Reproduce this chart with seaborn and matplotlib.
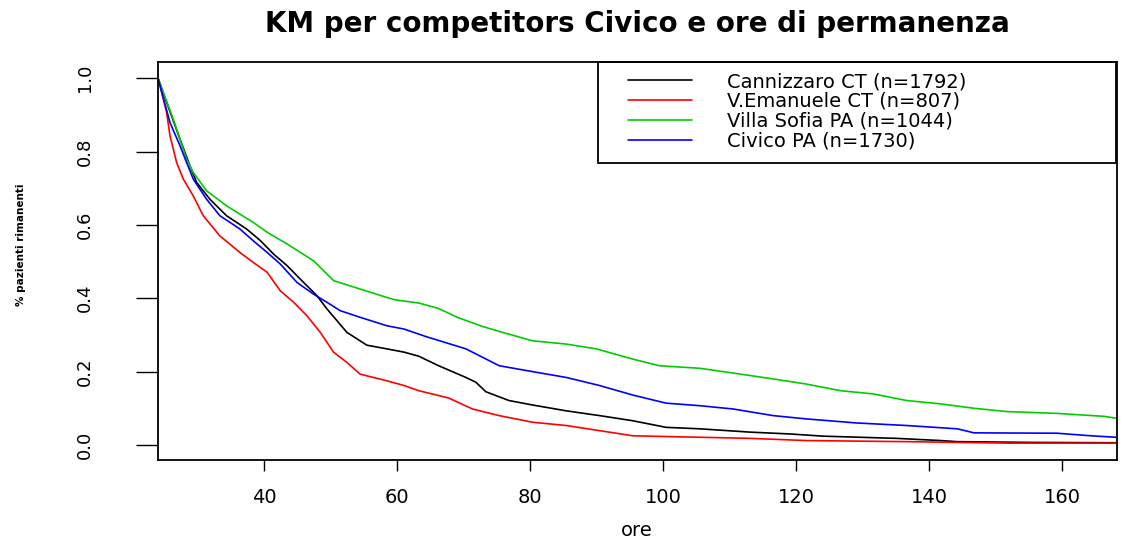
import numpy as np
import pandas as pd
import seaborn as sns
import matplotlib
matplotlib.use("Agg")
import matplotlib.pyplot as plt
from matplotlib.patches import Rectangle

# ---- data ----
groups = ["Cannizzaro CT (n=1792)", "V.Emanuele CT (n=807)",
          "Villa Sofia PA (n=1044)", "Civico PA (n=1730)"]
colors = ["#000000", "#FF0000", "#00CD00", "#0000FF"]

ore_cannizzaro = [24, 25.3, 27.3, 28.8, 29.8, 31.8, 34.3, 37.3, 39.4, 41.4, 43.4, 45.4,
                  47.9, 49.4, 52.4, 55.4, 58.4, 61, 63.2, 66.2, 70.3, 71.8, 73.3, 76.8,
                  80.3, 85.4, 90.4, 95.4, 100.4, 105.5, 113, 119, 124, 135, 141.7, 144.2,
                  155, 168]
km_cannizzaro = [1.0, 0.934, 0.834, 0.761, 0.716, 0.670, 0.625, 0.589, 0.557, 0.520, 0.489, 0.452,
                 0.407, 0.371, 0.307, 0.272, 0.262, 0.253, 0.242, 0.216, 0.184, 0.171, 0.145, 0.121,
                 0.109, 0.093, 0.080, 0.066, 0.048, 0.044, 0.035, 0.030, 0.024, 0.018, 0.012, 0.009,
                 0.007, 0.006]

ore_vemanuele = [24, 24.3, 25.3, 25.8, 26.8, 27.8, 29.3, 30.8, 33.3, 36.3, 38.3, 40.4, 42.4,
                 44.4, 46.4, 48.4, 50.4, 52.4, 54.4, 58.4, 61, 63.2, 67.7, 71.3, 75.3, 80.3,
                 85.4, 90.4, 95.4, 100.4, 113, 121.5, 136.6, 152, 168]
km_vemanuele = [1.0, 0.979, 0.906, 0.843, 0.770, 0.725, 0.679, 0.625, 0.570, 0.525, 0.498, 0.471,
                0.420, 0.389, 0.352, 0.307, 0.253, 0.225, 0.193, 0.175, 0.162, 0.148, 0.128, 0.098,
                0.080, 0.062, 0.053, 0.039, 0.025, 0.023, 0.018, 0.012, 0.009, 0.005, 0.005]

ore_villasofia = [24, 26.3, 28.3, 29.3, 31.3, 34.3, 38.3, 40.4, 43.4, 47.4, 49.4, 50.4, 54.4,
                  59.5, 63.2, 66.2, 69, 72.8, 75.8, 80.3, 85.4, 89.9, 95.4, 99.4, 105.5, 110.5,
                  116.5, 121.5, 126.6, 131.6, 136.6, 141.7, 146.7, 151.7, 159.2, 166.3, 168]
km_villasofia = [1.0, 0.888, 0.779, 0.743, 0.693, 0.652, 0.607, 0.580, 0.548, 0.502, 0.466, 0.448,
                 0.425, 0.396, 0.387, 0.372, 0.348, 0.323, 0.307, 0.284, 0.275, 0.262, 0.234, 0.216,
                 0.209, 0.196, 0.180, 0.166, 0.148, 0.139, 0.121, 0.112, 0.100, 0.091, 0.086, 0.078,
                 0.073]

ore_civico = [24, 25.8, 27.3, 28.3, 29.3, 31.3, 33.3, 36.3, 38.3, 40.4, 42.4, 44.9, 47.4,
              49.4, 51.4, 54.4, 58.4, 61, 64.2, 70.3, 75.3, 80.3, 85.4, 90.4, 95.4, 100.4,
              105.5, 110.5, 116.5, 121.5, 129, 136.6, 144.2, 146.7, 159.2, 164.3, 168]
km_civico = [1.0, 0.879, 0.816, 0.770, 0.725, 0.670, 0.625, 0.589, 0.557, 0.525, 0.493, 0.443, 0.411,
             0.389, 0.366, 0.348, 0.325, 0.316, 0.296, 0.262, 0.216, 0.200, 0.184, 0.162, 0.136, 0.114,
             0.107, 0.098, 0.080, 0.071, 0.060, 0.053, 0.044, 0.033, 0.032, 0.025, 0.021]

x_ticks = [40, 60, 80, 100, 120, 140, 160]
y_ticks = [0.0, 0.2, 0.4, 0.6, 0.8, 1.0]
y_tick_labels = ["0.0", "0.2", "0.4", "0.6", "0.8", "1.0"]

title = "KM per competitors Civico e ore di permanenza"
xlabel = "ore"
ylabel = "% pazienti rimanenti"

# ---- long table ----
frames = []
for g, o, k in zip(groups,
                   [ore_cannizzaro, ore_vemanuele, ore_villasofia, ore_civico],
                   [km_cannizzaro, km_vemanuele, km_villasofia, km_civico]):
    frames.append(pd.DataFrame({"ore": o, "km": k, "gruppo": g}))
df = pd.concat(frames, ignore_index=True)

sns.set_theme(style="white")
plt.rcParams["font.family"] = ["DejaVu Sans"]
plt.rcParams["text.color"] = "black"
plt.rcParams["axes.labelcolor"] = "black"
plt.rcParams["xtick.color"] = "black"
plt.rcParams["ytick.color"] = "black"

W, H = 1122, 539
fig = plt.figure(figsize=(W / 100, H / 100), dpi=100)
ax = fig.add_axes([158 / W, 1 - 460 / H, (1117 - 158) / W, (460 - 62) / H])

sns.lineplot(data=df, x="ore", y="km", hue="gruppo", hue_order=groups,
             palette=colors, estimator=None, sort=False, linewidth=1.2,
             legend=False, ax=ax)

ax.set_xlim(24, 168.2)
ax.set_ylim(-0.041, 1.044)
ax.set_xticks(x_ticks)
ax.set_xticklabels([str(t) for t in x_ticks], fontsize=14, color="black")
ax.set_yticks(y_ticks)
ax.set_yticklabels(y_tick_labels, fontsize=13, rotation=90, va="center", color="black")
ax.tick_params(axis="x", direction="out", length=8, width=1, color="black", pad=12, bottom=True)
ax.tick_params(axis="y", direction="out", length=16, width=1, color="black", pad=30, left=True)
ax.set_xlabel("")
ax.set_ylabel("")
for s in ax.spines.values():
    s.set_visible(True)
    s.set_color("black")
    s.set_linewidth(1.3)
ax.grid(False)

fig.text(637 / W, 1 - 24 / H, title, ha="center", va="center",
         fontsize=20, fontweight="bold", color="black")
fig.text(637 / W, 1 - 531 / H, xlabel, ha="center", va="center", fontsize=14, color="black")
fig.text(21 / W, 1 - 245 / H, ylabel, ha="center", va="center",
         rotation=90, fontsize=7.5, fontweight="bold", color="black")

# legend
handles = ax.get_lines()[:4]
leg = ax.legend(handles, groups, loc="upper left",
                bbox_to_anchor=(628 / W, 1 - 72 / H), bbox_transform=fig.transFigure,
                frameon=False, fontsize=14, handlelength=3.3, handletextpad=1.8,
                labelspacing=0.05, borderpad=0, borderaxespad=0)
for t in leg.get_texts():
    t.set_color("black")
ax.add_patch(Rectangle((598 / W, 1 - 163 / H), (1116 - 598) / W, (163 - 62) / H,
                       transform=fig.transFigure, fill=False, edgecolor="black",
                       linewidth=1.3, zorder=5, clip_on=False))

fig.savefig("out.png", dpi=100)
